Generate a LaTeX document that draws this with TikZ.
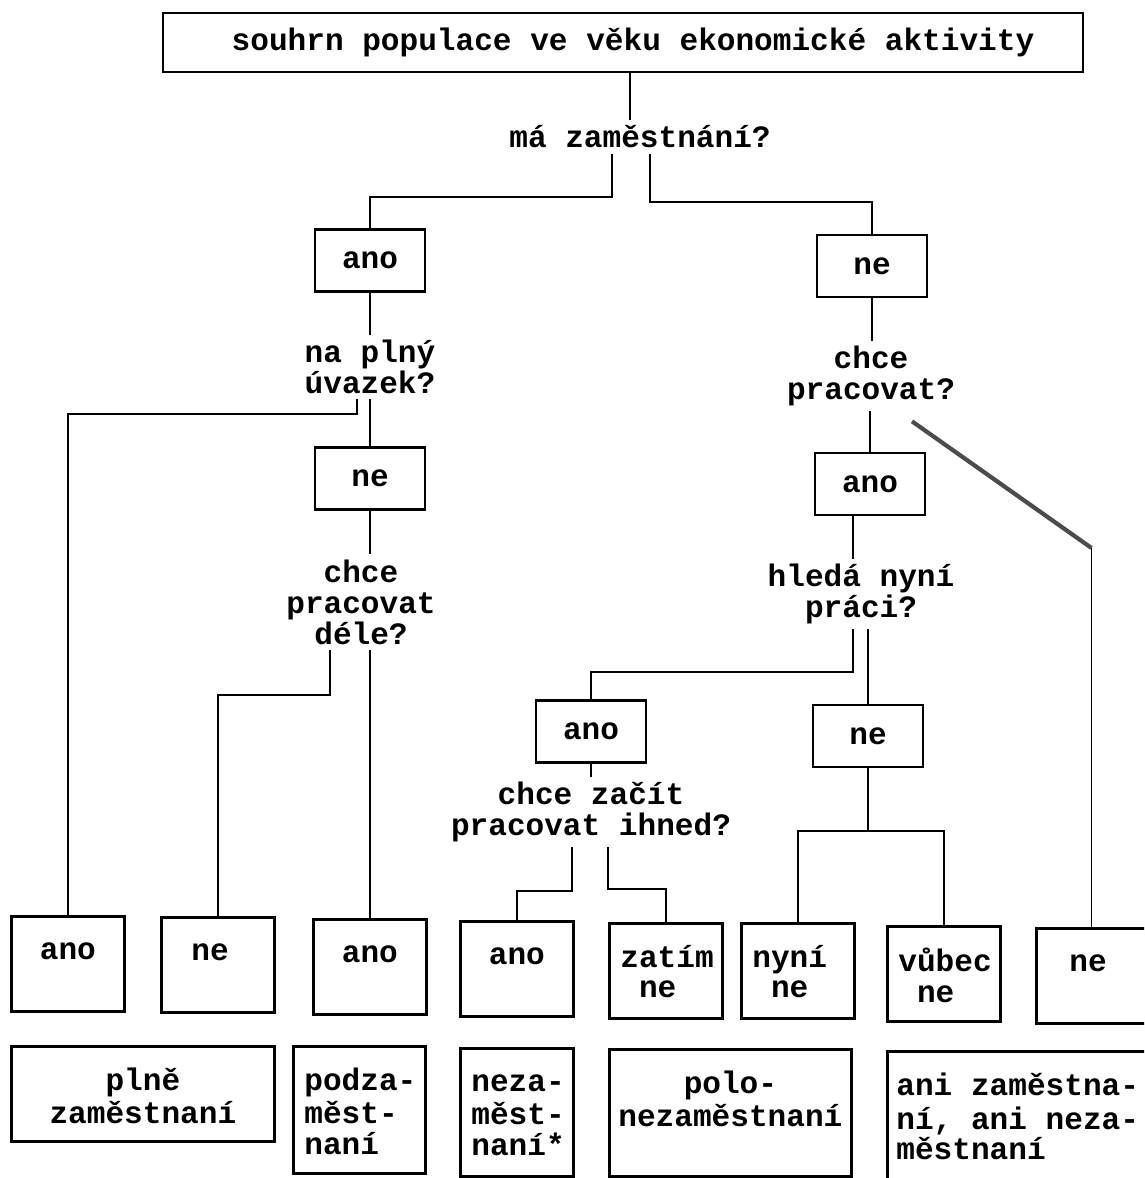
\documentclass[tikz,border=0pt]{standalone}
\usepackage{fontspec}
\setmainfont{Liberation Mono}
\usepackage{tikz}
\usetikzlibrary{calc}
\tikzset{
	boxnode/.style={rectangle, draw=black, line width=1.6pt, inner sep=0pt},
	ansnode/.style={boxnode, minimum width=22mm, minimum height=12.4mm},
	leafnode/.style={boxnode, anchor=north west},
	asknode/.style={align=center, inner sep=1mm},
	link/.style={line width=1.1pt},
	slash/.style={line width=2.4pt, black!70}
}
\newcommand{\cellbox}[3]{\parbox[c][#2][t]{#1}{\vspace*{4.3mm}#3}}
\newcommand{\ctext}{\centering\strut}
\newcommand{\ltext}{\raggedright\leftskip=2.2mm\relax\strut}

\begin{document}
\begin{tikzpicture}[x=0.2mm, y=-0.2mm, font=\bfseries\fontsize{17.7pt}{17.6pt}\selectfont]
		\clip (0,0) rectangle (1144,1178);
		% questions and answers
		\node[boxnode, minimum width=184mm, minimum height=11.8mm] (top) at (623,42.5) {\hspace*{4mm}\raisebox{-0.6mm}{souhrn populace ve věku ekonomické aktivity}};
		\node[asknode] (q1) at (640,137) {má zaměstnání?};
		\node[ansnode] (anoA) at (370,260.5) {ano};
		\node[ansnode] (neA) at (872,266) {ne};
		\node[asknode] (q2) at (370,367) {na plný\\úvazek?};
		\node[ansnode] (neB) at (370,478.5) {ne};
		\node[asknode] (q3) at (361,602) {chce\\pracovat\\déle?};
		\node[asknode] (q4) at (871,376) {chce\\pracovat?};
		\node[ansnode] (anoC) at (870,484) {ano};
		\node[asknode] (q5) at (861,594) {hledá nyní\\práci?};
		\node[ansnode] (anoD) at (591,731.5) {ano};
		\node[ansnode] (neD) at (868,736) {ne};
		\node[asknode] (q6) at (591,812) {chce začít\\pracovat ihned?};
		% first row
		\node[leafnode] (r1) at (10,915) {\cellbox{22.6mm}{19mm}{\ctext ano}};
		\node[leafnode] (r2) at (160,916) {\cellbox{22.6mm}{19mm}{\ltext\hspace*{3.8mm}ne}};
		\node[leafnode] (r3) at (312,918) {\cellbox{22.6mm}{19mm}{\ctext ano}};
		\node[leafnode] (r4) at (459,920) {\cellbox{22.6mm}{19mm}{\ctext ano}};
		\node[leafnode] (r5) at (608,922) {\cellbox{22.6mm}{19mm}{\ltext zatím\\~ne}};
		\node[leafnode] (r6) at (740,922) {\cellbox{22.6mm}{19mm}{\ltext nyní\\~ne}};
		\node[leafnode] (r7) at (886,925) {\cellbox{22.6mm}{19mm}{\ltext vůbec\\~ne}};
		\node[leafnode] (r8) at (1035,927) {\cellbox{26mm}{19mm}{\ltext\hspace*{4.4mm}ne}};
		% second row
		\node[leafnode] (s1) at (10,1045) {\cellbox{52.6mm}{19mm}{\ctext plně\\zaměstnaní}};
		\node[leafnode] (s2) at (292,1045) {\cellbox{26.4mm}{25.4mm}{\ltext podza-\\měst-\\naní}};
		\node[leafnode] (s3) at (459,1047) {\cellbox{22.6mm}{25.6mm}{\ltext neza-\\měst-\\naní*}};
		\node[leafnode] (s4) at (608,1048) {\cellbox{48.4mm}{25.4mm}{\ctext polo-\\nezaměstnaní}};
		\node[leafnode] (s5) at (886,1050) {\cellbox{56mm}{28mm}{\raggedright\leftskip=1.8mm\relax\strut ani zaměstna-\\ní, ani neza-\\městnaní}};
		\coordinate (kink) at (1091.5,548);
		% connectors
		\draw[link] ([xshift=1.4mm]top.south) -- ([xshift=1.4mm]top.south |- q1.north);
		\draw[link] ([xshift=-5.6mm]q1.south) -- ++(0,43) -| (anoA.north);
		\draw[link] ([xshift=2mm]q1.south) -- ++(0,48) -| (neA.north);
		\draw[link] (anoA) -- (q2);
		\draw[link] ([xshift=-2.6mm]q2.south) -- ++(0,15) -| (r1.north);
		\draw[link] (q2) -- (neB);
		\draw[link] (neB.south) -- (neB.south |- q3.north);
		\draw[link] ([xshift=-6.2mm]q3.south) -- ++(0,45) -| (r2.north);
		\draw[link] (q3.south -| r3.north) -- (r3.north);
		\draw[link] (neA.south) -- (neA.south |- q4.north);
		\draw[link] (anoC.north |- q4.south) -- (anoC.north);
		\draw[slash] ([shift={(8.2mm,-2mm)}]q4.south) -- (kink);
		\draw[link] (kink) -- (kink |- r8.north);
		\draw[link] ([xshift=-3.4mm]anoC.south) -- ([xshift=-3.4mm]anoC.south |- q5.north);
		\draw[link] ([xshift=-1.6mm]q5.south) -- ++(0,43) -| (anoD.north);
		\draw[link] (q5.south -| neD.north) -- (neD.north);
		\draw[link] (anoD) -- (q6);
		\draw[link] ([xshift=-3.8mm]q6.south) -- ++(0,44) -| (r4.north);
		\draw[link] ([xshift=3.4mm]q6.south) -- ++(0,42) -| (r5.north);
		\draw[link] (neD.south) -- ++(0,63) coordinate (split);
		\draw[link] (r6.north) |- (split) -| (r7.north);
\end{tikzpicture}
\end{document}
